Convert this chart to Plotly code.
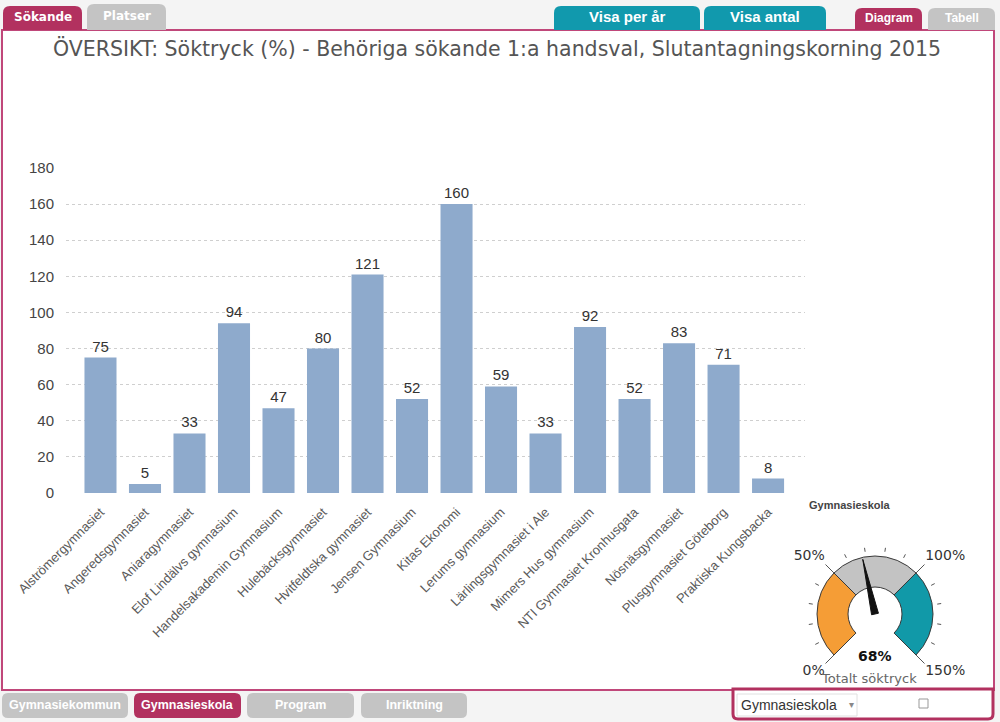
import plotly.graph_objects as go

W, H = 1000, 722

# ---------------- data ----------------
schools = ["Alströmergymnasiet", "Angeredsgymnasiet", "Aniaragymnasiet",
           "Elof Lindälvs gymnasium", "Handelsakademin Gymnasium",
           "Hulebäcksgymnasiet", "Hvitfeldtska gymnasiet", "Jensen Gymnasium",
           "Kitas Ekonomi", "Lerums gymnasium", "Lärlingsgymnasiet i Ale",
           "Mimers Hus gymnasium", "NTI Gymnasiet Kronhusgata",
           "Nösnäsgymnasiet", "Plusgymnasiet Göteborg", "Praktiska Kungsbacka"]
soktryck = [75, 5, 33, 94, 47, 80, 121, 52, 160, 59, 33, 92, 52, 83, 71, 8]
y_ticks = [0, 20, 40, 60, 80, 100, 120, 140, 160, 180]

gauge_bands = [0, 50, 100, 150]
gauge_band_colors = ["#f59d36", "#c3c3c3", "#1199a8"]
gauge_major = [0, 50, 100, 150]
gauge_major_labels = ["0%", "50%", "100%", "150%"]
gauge_minor = [10, 20, 30, 40, 60, 70, 80, 90, 110, 120, 130, 140]
gauge_value = 68

title = "ÖVERSIKT: Söktryck (%) - Behöriga sökande 1:a handsval, Slutantagningskorning 2015"

MAROON = "#b2315f"
GRAY_TAB = "#c4c4c4"
TEAL = "#1199ad"


def px(x):
    return x / W


def py(y):
    return 1 - y / H


def rounded(x0, y0, x1, y1, r, top=True, bottom=False):
    p = []
    if top:
        p.append(f"M{px(x0)},{py(y0 + r)} Q{px(x0)},{py(y0)} {px(x0 + r)},{py(y0)}")
        p.append(f"L{px(x1 - r)},{py(y0)} Q{px(x1)},{py(y0)} {px(x1)},{py(y0 + r)}")
    else:
        p.append(f"M{px(x0)},{py(y0)} L{px(x1)},{py(y0)}")
    if bottom:
        p.append(f"L{px(x1)},{py(y1 - r)} Q{px(x1)},{py(y1)} {px(x1 - r)},{py(y1)}")
        p.append(f"L{px(x0 + r)},{py(y1)} Q{px(x0)},{py(y1)} {px(x0)},{py(y1 - r)} Z")
    else:
        p.append(f"L{px(x1)},{py(y1)} L{px(x0)},{py(y1)} Z")
    return " ".join(p)


def label(x, y, text, family, size, color, xanchor="center"):
    return dict(x=px(x), y=py(y), xref="paper", yref="paper", text=text, showarrow=False,
                xanchor=xanchor, yanchor="middle",
                font=dict(family=family, size=size, color=color))


fig = go.Figure()

# ---------------- bar chart ----------------
fig.add_trace(go.Bar(
    x=schools, y=soktryck, marker=dict(color="#8eaacc", line=dict(width=0)),
    text=[str(v) for v in soktryck], textposition="outside",
    textfont=dict(family="Arial", size=15, color="#333333"),
    cliponaxis=False, hoverinfo="skip", showlegend=False,
))

# ---------------- gauge (polar) ----------------
deg = 270 / 150  # degrees per percent
thetas = [(a + b) / 2 * deg for a, b in zip(gauge_bands[:-1], gauge_bands[1:])]
widths = [(b - a) * deg for a, b in zip(gauge_bands[:-1], gauge_bands[1:])]
R_IN, R_OUT = 27, 58
fig.add_trace(go.Barpolar(
    theta=thetas, width=widths, r=[R_OUT - R_IN] * len(thetas), base=[R_IN] * len(thetas),
    marker=dict(color=gauge_band_colors, line=dict(color="#3a3a3a", width=1)),
    subplot="polar", showlegend=False, hoverinfo="skip",
))
for v in gauge_major:
    fig.add_trace(go.Scatterpolar(r=[R_OUT, 70], theta=[v * deg, v * deg], mode="lines",
                                  line=dict(color="#555555", width=1), subplot="polar",
                                  showlegend=False, hoverinfo="skip"))
for v in gauge_minor:
    fig.add_trace(go.Scatterpolar(r=[63, 67], theta=[v * deg, v * deg], mode="lines",
                                  line=dict(color="#555555", width=1), subplot="polar",
                                  showlegend=False, hoverinfo="skip"))
fig.add_trace(go.Scatterpolar(
    r=[71] * 4, theta=[v * deg for v in gauge_major], mode="text", text=gauge_major_labels,
    textposition=["bottom left", "top left", "top right", "bottom right"],
    textfont=dict(family="DejaVu Sans", size=14, color="#333333"),
    cliponaxis=False, subplot="polar", showlegend=False, hoverinfo="skip"))
nt = gauge_value * deg
fig.add_trace(go.Scatterpolar(
    r=[56, 3.5, 3.5, 56], theta=[nt, nt + 90, nt - 90, nt], mode="lines", fill="toself",
    fillcolor="#111111", line=dict(color="#111111", width=1),
    subplot="polar", showlegend=False, hoverinfo="skip"))

fig.update_layout(
    width=W, height=H, margin=dict(l=0, r=0, t=0, b=0, pad=0, autoexpand=False),
    paper_bgcolor="#f4f4f4", plot_bgcolor="rgba(0,0,0,0)",
    bargap=0.28,
    xaxis=dict(domain=[px(66), px(805)], range=[-0.775, 15.83], type="category",
               tickangle=-45, tickfont=dict(family="Arial", size=13, color="#5a5a5a"),
               showgrid=False, zeroline=False, showline=False, ticks="", automargin=False,
               ticklabelstandoff=8),
    yaxis=dict(domain=[py(493), py(168)], range=[0, 180], tickvals=y_ticks,
               tickfont=dict(family="Arial", size=15, color="#444444"),
               showgrid=True, gridcolor="#cfcfcf", griddash="dot", gridwidth=1,
               zeroline=False, showline=False, ticklabelstandoff=11, automargin=False),
    polar=dict(domain=dict(x=[px(775), px(975)], y=[py(714), py(514)]),
               bgcolor="rgba(0,0,0,0)",
               radialaxis=dict(range=[0, 100], visible=False),
               angularaxis=dict(rotation=225, direction="clockwise", visible=False,
                                thetaunit="degrees")),
)

shapes = []
annotations = []

# frame
shapes.append(dict(type="rect", xref="paper", yref="paper", x0=px(2), x1=px(994),
                   y0=py(690), y1=py(30), line=dict(color="#c0477a", width=2),
                   fillcolor="white", layer="below"))

# top tabs
tabs_top = [
    (3, 6, 82, 30, MAROON, "Sökande", "DejaVu Sans", 12),
    (87, 4, 166, 30, GRAY_TAB, "Platser", "DejaVu Sans", 12),
    (554, 6, 700, 30, TEAL, "Visa per år", "Arial", 15),
    (704, 6, 826, 30, TEAL, "Visa antal", "Arial", 15),
    (855, 8, 922, 30, MAROON, "Diagram", "Arial", 12),
    (928, 8, 995, 30, GRAY_TAB, "Tabell", "Arial", 12),
]
for x0, y0, x1, y1, col, txt, fam, sz in tabs_top:
    shapes.append(dict(type="path", xref="paper", yref="paper",
                       path=rounded(x0, y0, x1, y1, 7), fillcolor=col,
                       line=dict(width=0), layer="below"))
    annotations.append(label((x0 + x1) / 2, (y0 + y1) / 2 - 1, f"<b>{txt}</b>", fam, sz, "white"))

# bottom tabs
tabs_bottom = [
    (2, 693, 128, 718, GRAY_TAB, "Gymnasiekommun"),
    (134, 693, 241, 718, MAROON, "Gymnasieskola"),
    (247, 693, 354, 718, GRAY_TAB, "Program"),
    (361, 693, 467, 718, GRAY_TAB, "Inriktning"),
]
for x0, y0, x1, y1, col, txt in tabs_bottom:
    shapes.append(dict(type="path", xref="paper", yref="paper",
                       path=rounded(x0, y0, x1, y1, 6, top=True, bottom=True),
                       fillcolor=col, line=dict(width=0), layer="below"))
    annotations.append(label((x0 + x1) / 2, (y0 + y1) / 2 - 1, f"<b>{txt}</b>",
                             "Arial", 12.5, "white"))

# bottom-right control
shapes.append(dict(type="path", xref="paper", yref="paper",
                   path=rounded(733, 689, 993, 719, 5, top=False, bottom=True),
                   fillcolor="white", line=dict(color=MAROON, width=3), layer="below"))
shapes.append(dict(type="rect", xref="paper", yref="paper", x0=px(737), x1=px(857),
                   y0=py(716), y1=py(694), fillcolor="white",
                   line=dict(color="#e0e0e0", width=1), layer="below"))
shapes.append(dict(type="rect", xref="paper", yref="paper", x0=px(919), x1=px(928),
                   y0=py(708), y1=py(699), fillcolor="white",
                   line=dict(color="#999999", width=1), layer="below"))
annotations.append(label(739, 705, "Gymnasieskola", "Arial", 14, "#333333", xanchor="left"))
annotations.append(label(851, 704, "▾", "DejaVu Sans", 10, "#888888"))

# title
annotations.append(label(497, 48, title, "DejaVu Sans", 20.5, "#555555"))
# x-axis title
annotations.append(label(850, 505, "<b>Gymnasieskola</b>", "Arial", 11, "#444444"))
# gauge texts
annotations.append(label(875, 656, f"<b>{gauge_value}%</b>", "DejaVu Sans", 14, "#111111"))
annotations.append(label(869, 678, "Totalt söktryck", "DejaVu Sans", 13, "#666666"))

fig.update_layout(shapes=shapes, annotations=annotations)

fig.write_html("out.html", config={"displayModeBar": False},
               post_script="document.body.style.margin='0';document.body.style.overflow='hidden';")
